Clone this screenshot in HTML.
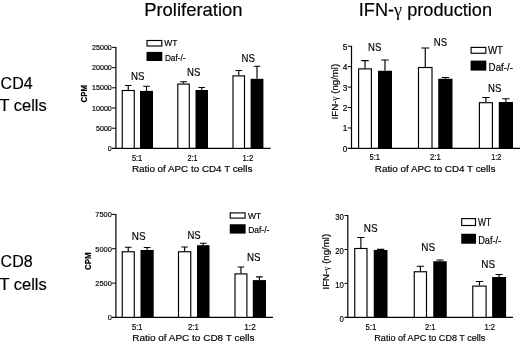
<!DOCTYPE html>
<html lang="en"><head><meta charset="utf-8"><title>Figure</title>
<style>html,body{margin:0;padding:0;background:#fff}body{width:520px;height:345px;overflow:hidden}svg{display:block}text{font-family:"Liberation Sans", sans-serif;fill:#000;stroke:#000;stroke-width:0.18px}</style>
</head><body>
<svg width="520" height="345" viewBox="0 0 520 345">
<rect width="520" height="345" fill="#fff"/>
<g style="filter:blur(0.3px)">
<text x="144.2" y="16.4" font-size="18.4" text-anchor="start" font-weight="normal" textLength="98.3" lengthAdjust="spacingAndGlyphs">Proliferation</text>
<text x="358.8" y="15.9" font-size="18" text-anchor="start" font-weight="normal" textLength="133.2" lengthAdjust="spacingAndGlyphs">IFN-<tspan font-family='"Liberation Serif", serif' stroke="none">γ</tspan> production</text>
<text x="0.6" y="88.9" font-size="15.6" text-anchor="start" font-weight="normal" textLength="32" lengthAdjust="spacingAndGlyphs">CD4</text>
<text x="-0.5" y="110.7" font-size="15.6" text-anchor="start" font-weight="normal" textLength="47.2" lengthAdjust="spacingAndGlyphs">T cells</text>
<text x="0.6" y="267.2" font-size="15.6" text-anchor="start" font-weight="normal" textLength="32" lengthAdjust="spacingAndGlyphs">CD8</text>
<text x="-0.5" y="289.5" font-size="15.6" text-anchor="start" font-weight="normal" textLength="47.2" lengthAdjust="spacingAndGlyphs">T cells</text>
<path d="M115.9 46.9V148.4" stroke="#000" stroke-width="1.2" fill="none"/>
<path d="M112.0 148.4H270.6" stroke="#000" stroke-width="1.2" fill="none"/>
<text x="111.8" y="151.00" font-size="7.1" text-anchor="end" font-weight="normal">0</text>
<path d="M112.0 128.20H115.9" stroke="#000" stroke-width="1" fill="none"/>
<text x="111.8" y="130.80" font-size="7.1" text-anchor="end" font-weight="normal">5000</text>
<path d="M112.0 108.00H115.9" stroke="#000" stroke-width="1" fill="none"/>
<text x="111.8" y="110.60" font-size="7.1" text-anchor="end" font-weight="normal">10000</text>
<path d="M112.0 87.80H115.9" stroke="#000" stroke-width="1" fill="none"/>
<text x="111.8" y="90.40" font-size="7.1" text-anchor="end" font-weight="normal">15000</text>
<path d="M112.0 67.60H115.9" stroke="#000" stroke-width="1" fill="none"/>
<text x="111.8" y="70.20" font-size="7.1" text-anchor="end" font-weight="normal">20000</text>
<path d="M112.0 47.40H115.9" stroke="#000" stroke-width="1" fill="none"/>
<text x="111.8" y="50.00" font-size="7.1" text-anchor="end" font-weight="normal">25000</text>
<path d="M128.25 90V85.5M124.95 85.5H131.55" stroke="#000" stroke-width="1.15" fill="none"/>
<rect x="122.25" y="90.50" width="12.00" height="57.90" fill="#fff" stroke="#000" stroke-width="1.15"/>
<path d="M146.50 90.9V86.25M143.20 86.25H149.80" stroke="#000" stroke-width="1.15" fill="none"/>
<rect x="140.00" y="90.90" width="13.00" height="57.50" fill="#000"/>
<path d="M183.55 83.6V81.75M180.25 81.75H186.85" stroke="#000" stroke-width="1.15" fill="none"/>
<rect x="177.80" y="84.10" width="11.50" height="64.30" fill="#fff" stroke="#000" stroke-width="1.15"/>
<path d="M201.75 90V87.5M198.45 87.5H205.05" stroke="#000" stroke-width="1.15" fill="none"/>
<rect x="195.50" y="90.00" width="12.50" height="58.40" fill="#000"/>
<path d="M238.75 75.4V70.5M235.45 70.5H242.05" stroke="#000" stroke-width="1.15" fill="none"/>
<rect x="233.00" y="75.90" width="11.50" height="72.50" fill="#fff" stroke="#000" stroke-width="1.15"/>
<path d="M257.00 78.8V66.25M253.70 66.25H260.30" stroke="#000" stroke-width="1.15" fill="none"/>
<rect x="250.60" y="78.80" width="12.80" height="69.60" fill="#000"/>
<text x="131" y="80.3" font-size="11.2" text-anchor="start" font-weight="normal" textLength="13.50" lengthAdjust="spacingAndGlyphs">NS</text>
<text x="187" y="76.2" font-size="11.2" text-anchor="start" font-weight="normal" textLength="13.30" lengthAdjust="spacingAndGlyphs">NS</text>
<text x="241.5" y="62.3" font-size="11.2" text-anchor="start" font-weight="normal" textLength="13.30" lengthAdjust="spacingAndGlyphs">NS</text>
<text x="131.9" y="160.5" font-size="8.3" text-anchor="start" font-weight="normal" textLength="10.30" lengthAdjust="spacingAndGlyphs">5:1</text>
<text x="187.5" y="160.5" font-size="8.3" text-anchor="start" font-weight="normal" textLength="10.20" lengthAdjust="spacingAndGlyphs">2:1</text>
<text x="242.6" y="160.5" font-size="8.3" text-anchor="start" font-weight="normal" textLength="10.60" lengthAdjust="spacingAndGlyphs">1:2</text>
<text x="131.9" y="171.7" font-size="9.6" text-anchor="start" font-weight="normal" textLength="120.50" lengthAdjust="spacingAndGlyphs">Ratio of APC to CD4 T cells</text>
<rect x="147.0" y="40.5" width="14.800000000000011" height="5.5" fill="#fff" stroke="#000" stroke-width="1.15"/>
<rect x="146.5" y="51.9" width="15.800000000000011" height="9.100000000000001" fill="#000"/>
<text x="164.2" y="46.3" font-size="8.9" text-anchor="start" font-weight="normal" textLength="13.10" lengthAdjust="spacingAndGlyphs">WT</text>
<text x="164.9" y="60.7" font-size="8.9" text-anchor="start" font-weight="normal" textLength="20.60" lengthAdjust="spacingAndGlyphs">Daf-/-</text>
<text transform="translate(87.45,93.6) rotate(-90)" font-size="8.8" text-anchor="middle" font-weight="bold" textLength="17.7" lengthAdjust="spacingAndGlyphs">CPM</text>
<path d="M351.5 45.75V148.4" stroke="#000" stroke-width="1.2" fill="none"/>
<path d="M347.75 148.4H520" stroke="#000" stroke-width="1.2" fill="none"/>
<text x="347.35" y="151.85" font-size="8.3" text-anchor="end" font-weight="normal">0</text>
<path d="M347.75 127.97H351.5" stroke="#000" stroke-width="1" fill="none"/>
<text x="347.35" y="131.42" font-size="8.3" text-anchor="end" font-weight="normal">1</text>
<path d="M347.75 107.54H351.5" stroke="#000" stroke-width="1" fill="none"/>
<text x="347.35" y="110.99" font-size="8.3" text-anchor="end" font-weight="normal">2</text>
<path d="M347.75 87.11H351.5" stroke="#000" stroke-width="1" fill="none"/>
<text x="347.35" y="90.56" font-size="8.3" text-anchor="end" font-weight="normal">3</text>
<path d="M347.75 66.68H351.5" stroke="#000" stroke-width="1" fill="none"/>
<text x="347.35" y="70.13" font-size="8.3" text-anchor="end" font-weight="normal">4</text>
<path d="M347.75 46.25H351.5" stroke="#000" stroke-width="1" fill="none"/>
<text x="347.35" y="49.70" font-size="8.3" text-anchor="end" font-weight="normal">5</text>
<path d="M365.00 68.4V60.6M361.30 60.6H368.70" stroke="#000" stroke-width="1.15" fill="none"/>
<rect x="358.60" y="68.90" width="12.80" height="79.50" fill="#fff" stroke="#000" stroke-width="1.15"/>
<path d="M385.00 70.75V60M381.30 60H388.70" stroke="#000" stroke-width="1.15" fill="none"/>
<rect x="378.00" y="70.75" width="14.00" height="77.65" fill="#000"/>
<path d="M425.25 67V48M421.25 48H429.25" stroke="#000" stroke-width="1.15" fill="none"/>
<rect x="418.50" y="67.50" width="13.50" height="80.90" fill="#fff" stroke="#000" stroke-width="1.15"/>
<path d="M445.38 78.75V77.5M441.68 77.5H449.07" stroke="#000" stroke-width="1.15" fill="none"/>
<rect x="438.25" y="78.75" width="14.25" height="69.65" fill="#000"/>
<path d="M485.90 102.2V97.5M482.20 97.5H489.60" stroke="#000" stroke-width="1.15" fill="none"/>
<rect x="479.40" y="102.70" width="13.00" height="45.70" fill="#fff" stroke="#000" stroke-width="1.15"/>
<path d="M505.88 102V98.75M502.18 98.75H509.57" stroke="#000" stroke-width="1.15" fill="none"/>
<rect x="498.75" y="102.00" width="14.25" height="46.40" fill="#000"/>
<text x="368" y="51.3" font-size="11.2" text-anchor="start" font-weight="normal" textLength="13.25" lengthAdjust="spacingAndGlyphs">NS</text>
<text x="433.75" y="45.9" font-size="11.2" text-anchor="start" font-weight="normal" textLength="13.25" lengthAdjust="spacingAndGlyphs">NS</text>
<text x="488" y="92.3" font-size="11.2" text-anchor="start" font-weight="normal" textLength="13.25" lengthAdjust="spacingAndGlyphs">NS</text>
<text x="369.5" y="160.3" font-size="8.3" text-anchor="start" font-weight="normal" textLength="10.50" lengthAdjust="spacingAndGlyphs">5:1</text>
<text x="430" y="160.3" font-size="8.3" text-anchor="start" font-weight="normal" textLength="10.75" lengthAdjust="spacingAndGlyphs">2:1</text>
<text x="491.25" y="160.3" font-size="8.3" text-anchor="start" font-weight="normal" textLength="10.00" lengthAdjust="spacingAndGlyphs">1:2</text>
<text x="374.8" y="171.7" font-size="9.6" text-anchor="start" font-weight="normal" textLength="120.60" lengthAdjust="spacingAndGlyphs">Ratio of APC to CD4 T cells</text>
<rect x="471.1" y="47.4" width="14.699999999999989" height="5.850000000000001" fill="#fff" stroke="#000" stroke-width="1.15"/>
<rect x="470.6" y="60.6" width="15.699999999999989" height="9.999999999999993" fill="#000"/>
<text x="487.9" y="53.7" font-size="10.5" text-anchor="start" font-weight="normal" textLength="15.10" lengthAdjust="spacingAndGlyphs">WT</text>
<text x="488.6" y="70.5" font-size="10.5" text-anchor="start" font-weight="normal" textLength="24.40" lengthAdjust="spacingAndGlyphs">Daf-/-</text>
<text transform="translate(337.6,91.6) rotate(-90)" font-size="9.3" text-anchor="middle" font-weight="normal" textLength="55.5" lengthAdjust="spacingAndGlyphs">IFN-<tspan font-family='"Liberation Serif", serif' stroke="none">γ</tspan> (ng/ml)</text>
<path d="M115.9 213.9V317.4" stroke="#000" stroke-width="1.2" fill="none"/>
<path d="M112.0 317.4H273" stroke="#000" stroke-width="1.2" fill="none"/>
<text x="111.8" y="320.35" font-size="7.4" text-anchor="end" font-weight="normal">0</text>
<path d="M112.0 283.07H115.9" stroke="#000" stroke-width="1" fill="none"/>
<text x="111.8" y="286.02" font-size="7.4" text-anchor="end" font-weight="normal">2500</text>
<path d="M112.0 248.73H115.9" stroke="#000" stroke-width="1" fill="none"/>
<text x="111.8" y="251.68" font-size="7.4" text-anchor="end" font-weight="normal">5000</text>
<path d="M112.0 214.40H115.9" stroke="#000" stroke-width="1" fill="none"/>
<text x="111.8" y="217.35" font-size="7.4" text-anchor="end" font-weight="normal">7500</text>
<path d="M128.25 251.25V247.2M124.95 247.2H131.55" stroke="#000" stroke-width="1.15" fill="none"/>
<rect x="122.25" y="251.75" width="12.00" height="65.65" fill="#fff" stroke="#000" stroke-width="1.15"/>
<path d="M147.10 250V247.5M143.80 247.5H150.40" stroke="#000" stroke-width="1.15" fill="none"/>
<rect x="140.50" y="250.00" width="13.20" height="67.40" fill="#000"/>
<path d="M184.62 251.25V247M181.32 247H187.93" stroke="#000" stroke-width="1.15" fill="none"/>
<rect x="178.50" y="251.75" width="12.25" height="65.65" fill="#fff" stroke="#000" stroke-width="1.15"/>
<path d="M203.25 245.2V243.25M199.95 243.25H206.55" stroke="#000" stroke-width="1.15" fill="none"/>
<rect x="197.00" y="245.20" width="12.50" height="72.20" fill="#000"/>
<path d="M240.95 273.4V267M237.65 267H244.25" stroke="#000" stroke-width="1.15" fill="none"/>
<rect x="235.00" y="273.90" width="11.90" height="43.50" fill="#fff" stroke="#000" stroke-width="1.15"/>
<path d="M259.40 280.1V276.9M256.10 276.9H262.70" stroke="#000" stroke-width="1.15" fill="none"/>
<rect x="252.80" y="280.10" width="13.20" height="37.30" fill="#000"/>
<text x="131.75" y="239.8" font-size="11.2" text-anchor="start" font-weight="normal" textLength="13.75" lengthAdjust="spacingAndGlyphs">NS</text>
<text x="187.5" y="239.05" font-size="11.2" text-anchor="start" font-weight="normal" textLength="13.20" lengthAdjust="spacingAndGlyphs">NS</text>
<text x="247" y="260.6" font-size="11.2" text-anchor="start" font-weight="normal" textLength="13.50" lengthAdjust="spacingAndGlyphs">NS</text>
<text x="132" y="329.6" font-size="8.3" text-anchor="start" font-weight="normal" textLength="10.50" lengthAdjust="spacingAndGlyphs">5:1</text>
<text x="188" y="329.6" font-size="8.3" text-anchor="start" font-weight="normal" textLength="10.75" lengthAdjust="spacingAndGlyphs">2:1</text>
<text x="244.25" y="329.6" font-size="8.3" text-anchor="start" font-weight="normal" textLength="11.50" lengthAdjust="spacingAndGlyphs">1:2</text>
<text x="132.2" y="341.2" font-size="9.6" text-anchor="start" font-weight="normal" textLength="122.20" lengthAdjust="spacingAndGlyphs">Ratio of APC to CD8 T cells</text>
<rect x="230.25" y="212.9" width="14.849999999999994" height="5.199999999999989" fill="#fff" stroke="#000" stroke-width="1.15"/>
<rect x="229.75" y="224.25" width="15.849999999999994" height="9.349999999999994" fill="#000"/>
<text x="247.9" y="218.6" font-size="8.9" text-anchor="start" font-weight="normal" textLength="13.20" lengthAdjust="spacingAndGlyphs">WT</text>
<text x="248.2" y="233.4" font-size="8.9" text-anchor="start" font-weight="normal" textLength="21.10" lengthAdjust="spacingAndGlyphs">Daf-/-</text>
<text transform="translate(91.15,261.2) rotate(-90)" font-size="8.8" text-anchor="middle" font-weight="bold" textLength="17.7" lengthAdjust="spacingAndGlyphs">CPM</text>
<path d="M347.8 215.0V317.4" stroke="#000" stroke-width="1.2" fill="none"/>
<path d="M344.5 317.4H513" stroke="#000" stroke-width="1.2" fill="none"/>
<text x="343.9" y="321.50" font-size="9.2" text-anchor="end" font-weight="normal" textLength="4.35" lengthAdjust="spacingAndGlyphs">0</text>
<path d="M344.5 283.43H347.8" stroke="#000" stroke-width="1" fill="none"/>
<text x="343.9" y="287.53" font-size="9.2" text-anchor="end" font-weight="normal" textLength="8.70" lengthAdjust="spacingAndGlyphs">10</text>
<path d="M344.5 249.47H347.8" stroke="#000" stroke-width="1" fill="none"/>
<text x="343.9" y="253.57" font-size="9.2" text-anchor="end" font-weight="normal" textLength="8.70" lengthAdjust="spacingAndGlyphs">20</text>
<path d="M344.5 215.50H347.8" stroke="#000" stroke-width="1" fill="none"/>
<text x="343.9" y="219.60" font-size="9.2" text-anchor="end" font-weight="normal" textLength="8.70" lengthAdjust="spacingAndGlyphs">30</text>
<path d="M360.88 248V237.5M357.27 237.5H364.48" stroke="#000" stroke-width="1.15" fill="none"/>
<rect x="354.75" y="248.50" width="12.25" height="68.90" fill="#fff" stroke="#000" stroke-width="1.15"/>
<path d="M380.62 250V249.4M377.02 249.4H384.23" stroke="#000" stroke-width="1.15" fill="none"/>
<rect x="373.75" y="250.00" width="13.75" height="67.40" fill="#000"/>
<path d="M420.38 271.25V266.25M416.77 266.25H423.98" stroke="#000" stroke-width="1.15" fill="none"/>
<rect x="414.25" y="271.75" width="12.25" height="45.65" fill="#fff" stroke="#000" stroke-width="1.15"/>
<path d="M440.00 261.25V260M436.40 260H443.60" stroke="#000" stroke-width="1.15" fill="none"/>
<rect x="433.25" y="261.25" width="13.50" height="56.15" fill="#000"/>
<path d="M479.45 285.6V281.5M475.85 281.5H483.05" stroke="#000" stroke-width="1.15" fill="none"/>
<rect x="472.80" y="286.10" width="13.30" height="31.30" fill="#fff" stroke="#000" stroke-width="1.15"/>
<path d="M499.10 277V274.5M495.50 274.5H502.70" stroke="#000" stroke-width="1.15" fill="none"/>
<rect x="492.10" y="277.00" width="14.00" height="40.40" fill="#000"/>
<text x="363.75" y="231.55" font-size="11.2" text-anchor="start" font-weight="normal" textLength="13.75" lengthAdjust="spacingAndGlyphs">NS</text>
<text x="421.25" y="250.60000000000002" font-size="11.2" text-anchor="start" font-weight="normal" textLength="13.75" lengthAdjust="spacingAndGlyphs">NS</text>
<text x="481.25" y="268.3" font-size="11.2" text-anchor="start" font-weight="normal" textLength="13.75" lengthAdjust="spacingAndGlyphs">NS</text>
<text x="365.5" y="329.6" font-size="8.3" text-anchor="start" font-weight="normal" textLength="10.75" lengthAdjust="spacingAndGlyphs">5:1</text>
<text x="425" y="329.6" font-size="8.3" text-anchor="start" font-weight="normal" textLength="10.50" lengthAdjust="spacingAndGlyphs">2:1</text>
<text x="484.5" y="329.6" font-size="8.3" text-anchor="start" font-weight="normal" textLength="10.50" lengthAdjust="spacingAndGlyphs">1:2</text>
<text x="374.3" y="341.2" font-size="9.6" text-anchor="start" font-weight="normal" textLength="111.10" lengthAdjust="spacingAndGlyphs">Ratio of APC to CD8 T cells</text>
<rect x="461.75" y="218.6" width="13.75" height="6.900000000000006" fill="#fff" stroke="#000" stroke-width="1.15"/>
<rect x="461.25" y="233.75" width="14.75" height="10.0" fill="#000"/>
<text x="477.9" y="225.9" font-size="10.3" text-anchor="start" font-weight="normal" textLength="13.20" lengthAdjust="spacingAndGlyphs">WT</text>
<text x="478.2" y="243.7" font-size="10.3" text-anchor="start" font-weight="normal" textLength="22.90" lengthAdjust="spacingAndGlyphs">Daf-/-</text>
<text transform="translate(329,261.7) rotate(-90)" font-size="9.2" text-anchor="middle" font-weight="normal" textLength="55.6" lengthAdjust="spacingAndGlyphs">IFN-<tspan font-family='"Liberation Serif", serif' stroke="none">γ</tspan> (ng/ml)</text>
</g></svg></body></html>
